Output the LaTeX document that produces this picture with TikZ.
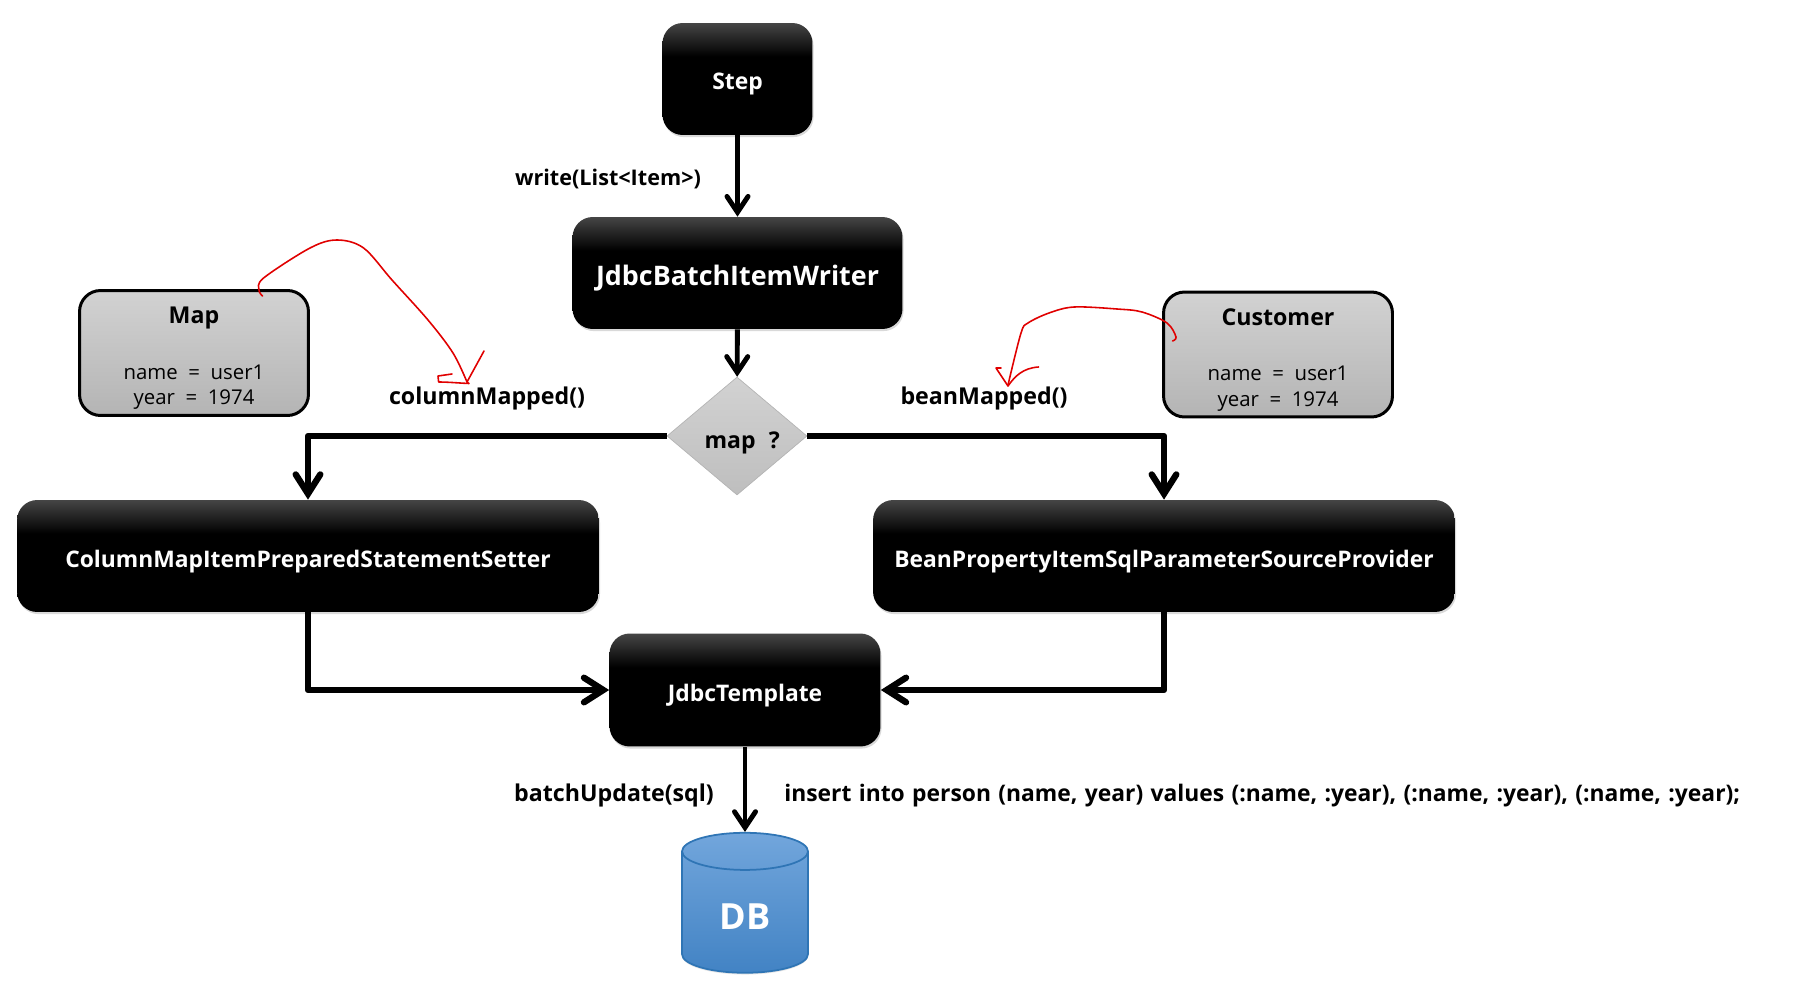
\documentclass[tikz,border=0pt]{standalone}
\usepackage{fontspec}
\setmainfont{Open Sans}
\usepackage{xcolor}
\usetikzlibrary{arrows.meta,shadows,shapes.geometric}
\definecolor{jbInk}{HTML}{000000}
\definecolor{jbTop}{HTML}{454545}
\definecolor{jbGreyTop}{HTML}{D2D2D2}
\definecolor{jbGreyMid}{HTML}{BEBEBE}
\definecolor{jbGreyLow}{HTML}{B4B4B4}
\definecolor{jbBlueTop}{HTML}{72A6DC}
\definecolor{jbBlueLow}{HTML}{4283C4}
\definecolor{jbBlueLine}{HTML}{2F75B5}
\definecolor{jbPen}{HTML}{E00000}
\pgfdeclareverticalshading{jbdark}{100bp}{color(0bp)=(black);color(25bp)=(black);color(60bp)=(black);color(75bp)=(jbTop);color(100bp)=(jbTop)}
\tikzset{
  jb diagram/.style={text=jbInk, line join=round},
  jb box/.style={rectangle, rounded corners=11.5pt, shading=jbdark, text=white,
    font=\fontsize{13}{16}\selectfont\bfseries, inner sep=0pt, text height=12pt, text depth=0pt,
    drop shadow={shadow xshift=0.6pt, shadow yshift=-1.2pt, opacity=0.3}},
  jb data/.style={rectangle, rounded corners=12pt, draw=black, line width=1.7pt,
    top color=jbGreyTop, bottom color=jbGreyLow, align=center, inner sep=0pt,
    minimum width=4.58cm, minimum height=2.5cm,
    font=\fontsize{11.6}{14.5}\selectfont},
  jb decision/.style={diamond, aspect=1.19, draw=jbGreyLow, top color=jbGreyTop,
    bottom color=jbGreyMid, minimum width=2.8cm, minimum height=2.36cm, inner sep=0pt,
    text height=14.6pt, text depth=0pt, font=\fontsize{13.1}{16}\selectfont\bfseries},
  jb arrow/.style={-{Straight Barb[length=9pt,width=12pt,line cap=round]}, draw=black, line width=2.8pt},
  jb thick arrow/.style={-{Straight Barb[length=11pt,width=14pt,line cap=round]}, draw=black, line width=3.6pt},
  jb label/.style={font=\fontsize{13.2}{16}\selectfont\bfseries, inner sep=0pt},
  jb ink/.style={draw=jbPen, line width=0.9pt, line cap=round}
}
\begin{document}
\begin{tikzpicture}[jb diagram, x=0.02cm, y=-0.02cm]
\useasboundingbox (0,0) rectangle (1817,1000);
% main boxes
\node[jb box, minimum width=3cm, minimum height=2.24cm] (step) at (737.5,79) {Step};
\node[jb box, minimum width=6.6cm, minimum height=2.24cm, text height=14.4pt, font=\fontsize{15.3}{18}\selectfont\bfseries] (writer) at (737.5,273) {JdbcBatchItemWriter};
\node[jb decision] (map) at (737,436) {\hspace*{6pt}map\hspace{0.32em} ?};
\node[jb box, minimum width=11.64cm, minimum height=2.24cm, text height=13pt] (setter) at (308,556) {ColumnMapItemPreparedStatementSetter};
\node[jb box, minimum width=11.64cm, minimum height=2.24cm, text height=13pt] (provider) at (1164,556) {BeanPropertyItemSqlParameterSourceProvider};
\node[jb box, minimum width=5.42cm, minimum height=2.26cm, text height=12.6pt] (template) at (745,690) {JdbcTemplate};
\node[cylinder, shape border rotate=90, aspect=0.73, draw=jbBlueLine, line width=1pt, top color=jbBlueTop,
  bottom color=jbBlueLow, text=white, minimum width=2.52cm, minimum height=2.8cm, inner sep=0pt,
  text height=19.8pt, text depth=0pt, font=\fontsize{20.5}{24}\selectfont\bfseries,
  drop shadow={shadow xshift=0pt, shadow yshift=-1pt, opacity=0.2}] (db) at (745,912.5) {DB};
% data boxes
\node[jb data] (mapdata) at (194,353) {\rule{0pt}{15.6pt}{\fontsize{13.2}{16}\selectfont\bfseries Map}\\[17pt]name~ =~ user1\\year~ =~ 1974};
\node[jb data] (customer) at (1278,354.5) {\rule{0pt}{15.6pt}{\fontsize{13.2}{16}\selectfont\bfseries Customer}\\[17pt]name~ =~ user1\\year~ =~ 1974};
% connectors
\draw[jb arrow] (step) -- (writer);
\draw[jb arrow] (writer) -- (map);
\draw[jb thick arrow] (map.west) -| (setter.north);
\draw[jb thick arrow] (map.east) -| (provider.north);
\draw[jb thick arrow] (setter.south) |- (template.west);
\draw[jb thick arrow] (provider.south) |- (template.east);
\draw[jb arrow] (template) -- (db.top);
% labels
\node[jb label, font=\fontsize{12.3}{16}\selectfont\bfseries] (writelabel) at (608,179) {write(List<Item>)};
\node[jb label] (columnlabel) at (487,398) {columnMapped()};
\node[jb label] (beanlabel) at (984,398) {beanMapped()};
\node[jb label] (batchlabel) at (614,795) {batchUpdate(sql)};
\node[jb label, anchor=west, font=\fontsize{13}{16}\selectfont\bfseries] (sqllabel) at (784,796) {\spaceskip=4.2pt\relax insert into person (name, year) values (:name, :year), (:name, :year), (:name, :year);};
% pen marks
\draw[jb ink] plot[smooth, tension=0.55] coordinates {(262.5,296) (259,290) (263.6,278) (310,248) (337,240) (363.6,248) (392,280) (428,320) (453,353) (467,382)};
\draw[jb ink] (484,351) -- (467,382) -- (469,383.5) .. controls (458,383) and (448,382) .. (438.6,382) -- (438,376) -- (452,374);
\draw[jb ink] plot[smooth, tension=0.55] coordinates {(1172.5,341) (1176,337) (1167,323) (1142,312) (1117,309) (1074,307) (1049,313) (1028,323) (1021,333) (1008,385)};
\draw[jb ink] (1001,368) -- (996,368) -- (1008,386) .. controls (1015,376) and (1023,368) .. (1038.6,367);
\end{tikzpicture}
\end{document}
